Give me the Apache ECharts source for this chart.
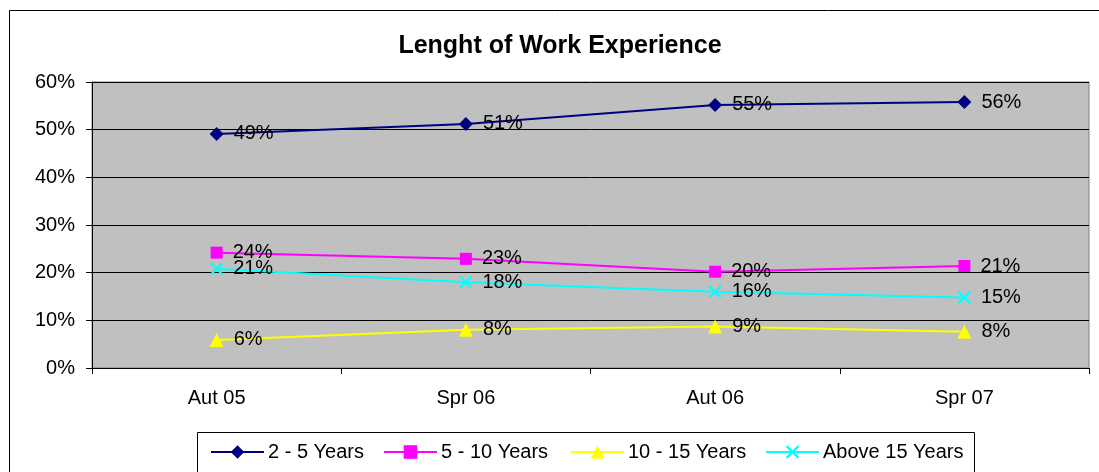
<!DOCTYPE html>
<html>
<head>
<meta charset="utf-8">
<script src="https://cdn.jsdelivr.net/npm/echarts@6/dist/echarts.min.js"></script>
<style>
html,body{margin:0;padding:0;background:#fff;}
#chart{width:1099px;height:472px;}
</style>
</head>
<body>
<div id="chart"></div>
<script>
const categories = ['Aut 05', 'Spr 06', 'Aut 06', 'Spr 07'];
const years2to5 = [49.1, 51.2, 55.2, 55.8];
const years5to10 = [24.2, 22.9, 20.2, 21.4];
const years10to15 = [5.9, 8.0, 8.7, 7.6];
const above15 = [20.8, 18.0, 16.0, 14.8];
const seriesNames = ['2 - 5 Years', '5 - 10 Years', '10 - 15 Years', 'Above 15 Years'];
const yTicks = {min: 0, max: 60, interval: 10};

const FONT = '"Liberation Sans", Arial, sans-serif';
const xPath = 'path://M0,1.2 L1.2,0 L5,3.8 L8.8,0 L10,1.2 L6.2,5 L10,8.8 L8.8,10 L5,6.2 L1.2,10 L0,8.8 L3.8,5 Z';

function mkSeries(name, data, color, symbol, size) {
  return {
    name: name, type: 'line', data: data,
    symbol: symbol, symbolSize: size,
    lineStyle: {color: color, width: 2},
    itemStyle: {color: color},
    label: {
      show: true, position: 'right', distance: 10,
      color: '#000', fontFamily: FONT, fontSize: 20,
      formatter: p => Math.round(p.value) + '%'
    },
    emphasis: {disabled: true},
    animation: false
  };
}

const legendLefts = [205, 378, 565, 760];
const legends = seriesNames.map((n, i) => ({
  data: [n], left: legendLefts[i], top: 437,
  itemWidth: 53, itemHeight: 17, itemGap: 0,
  textStyle: {color: '#000', fontFamily: FONT, fontSize: 20, padding: [0, 0, 0, -1]},
  selectedMode: false
}));

const chart = echarts.init(document.getElementById('chart'), null, {renderer: 'canvas'});
chart.setOption({
  animation: false,
  backgroundColor: '#fff',
  title: {
    text: 'Lenght of Work Experience', left: 555, top: 29, textAlign: 'center',
    textStyle: {fontFamily: FONT, fontSize: 25, fontWeight: 'bold', color: '#000'}
  },
  graphic: [
    {type: 'rect', shape: {x: 9.5, y: 10.5, width: 1200, height: 600}, style: {fill: 'none', stroke: '#000', lineWidth: 1}, z: -10, silent: true},
    {type: 'rect', shape: {x: 197.5, y: 432.5, width: 777, height: 100}, style: {fill: 'none', stroke: '#000', lineWidth: 1}, z: -10, silent: true}
  ],
  legend: legends,
  grid: {
    left: 92, top: 82, right: 10, bottom: 104,
    show: true, backgroundColor: '#C0C0C0', borderColor: '#808080', borderWidth: 1
  },
  xAxis: {
    type: 'category', data: categories, boundaryGap: true,
    axisLine: {lineStyle: {color: '#000', width: 1}},
    axisTick: {show: true, length: 6, lineStyle: {color: '#000'}},
    axisLabel: {color: '#000', fontFamily: FONT, fontSize: 20, margin: 20},
    splitLine: {show: false}
  },
  yAxis: {
    type: 'value', min: yTicks.min, max: yTicks.max, interval: yTicks.interval,
    axisLine: {show: true, lineStyle: {color: '#000', width: 1}},
    axisTick: {show: true, length: 6, lineStyle: {color: '#000'}},
    axisLabel: {color: '#000', fontFamily: FONT, fontSize: 20, margin: 17, formatter: '{value}%'},
    splitLine: {show: true, lineStyle: {color: '#000', width: 1}}
  },
  series: [
    mkSeries(seriesNames[0], years2to5, '#000080', 'diamond', 14),
    mkSeries(seriesNames[1], years5to10, '#FF00FF', 'rect', 12),
    mkSeries(seriesNames[2], years10to15, '#FFFF00', 'triangle', 14),
    mkSeries(seriesNames[3], above15, '#00FFFF', xPath, 13)
  ]
});
</script>
</body>
</html>
